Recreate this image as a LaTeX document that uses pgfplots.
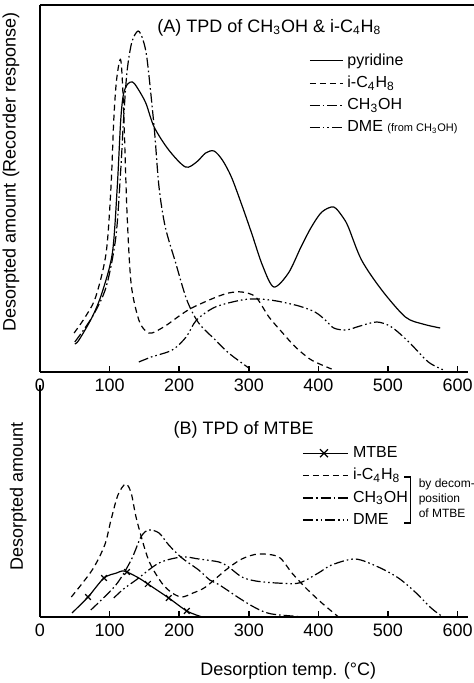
\documentclass[border=0pt]{standalone}
\usepackage{pgfplots}
\pgfplotsset{compat=1.18}
\usepackage{fontspec}
\setmainfont{Liberation Sans}
\newcommand{\sub}[1]{\textsubscript{#1}}
\begin{document}
\begin{tikzpicture}
% 1 px of the reference = 0.5pt; origin at the lower axis corner
\useasboundingbox (-20pt,-33pt) rectangle (217pt,308.5pt);
\pgfplotsset{
  tpd/.style={
    scale only axis, width=214pt,
    xmin=0, xmax=615, ymin=0,
    axis x line*=bottom, axis y line*=left,
    axis line style={line width=1pt},
    xtick={0,100,...,600}, ytick=\empty,
    tick align=inside, major tick length=3pt,
    tick style={line width=0.8pt, black},
    ticklabel style={font=\small},
    /pgf/number format/assume math mode=true,
    legend style={draw=none, fill=none, font=\footnotesize, cells={anchor=west},
      inner sep=0pt, row sep=0pt},
    clip=false,
  },
  pyr/.style={line width=0.6pt, smooth, tension=0.5},
  ib/.style={line width=0.6pt, smooth, tension=0.5, dash pattern=on 3pt off 2pt},
  meoh/.style={line width=0.6pt, smooth, tension=0.5, dash pattern=on 5pt off 1.5pt on 0.8pt off 1.5pt},
  dme/.style={line width=0.6pt, smooth, tension=0.5, dash pattern=on 5pt off 1.5pt on 0.8pt off 1.5pt on 0.8pt off 1.5pt},
}
% (A) TPD of CH3OH and i-C4H8
\begin{axis}[tpd, at={(0,122.5pt)}, height=183.5pt, ymax=367,
  ylabel={Desorpted amount (Recorder response)},
  ylabel style={at={(axis description cs:-0.068,0.545)}, anchor=center, font=\small},
  legend style={at={(axis description cs:0.628,0.88)}, anchor=north west},
  legend image code/.code={\draw[#1] (0cm,0cm) -- (0.58cm,0cm);},
]
\addplot[pyr] coordinates {(50,28)(56,32)(75,55)(89,79)(104,119)(111,185)(116,252)(120,278)(126,288)(133,290)(140,284)(152,269)(164,245)(185,222)(209,205)(225,210)(238,219)(250,221)(262,212)(275,195)(290,167)(304,139)(320,106)(336,85)(357,99)(375,125)(390,145)(405,160)(422,165)(435,155)(443,145)(462,112)(491,82)(525,55)(550,48)(575,44)};
\addlegendentry{pyridine}
\addplot[ib] coordinates {(49,39)(65,55)(80,75)(95,119)(102,185)(106,252)(110,292)(116,312)(120,265)(125,160)(131,88)(142,52)(152,41)(161,39)(180,46)(200,56)(218,64)(250,74)(271,79)(290,80)(310,75)(329,55)(350,38)(367,25)(390,12)(419,3)};
\addlegendentry{i-C\sub{4}H\sub{8}}
\addplot[meoh] coordinates {(50,30)(75,55)(95,85)(109,135)(116,202)(120,252)(125,300)(132,330)(141,341)(148,332)(154,312)(164,245)(171,185)(180,145)(195,109)(211,72)(228,49)(252,32)(271,19)(300,4)};
\addlegendentry{CH\sub{3}OH}
\addplot[dme] coordinates {(142,10)(160,15)(190,22)(210,35)(225,52)(252,65)(290,72)(314,73)(340,71)(372,66)(395,60)(410,52)(422,44)(440,42)(460,46)(484,50)(505,45)(530,30)(558,10)(580,2)};
\addlegendentry{DME {\fontsize{5.5}{6}\selectfont(from CH\sub{3}OH)}}
\draw[line width=1pt] (axis description cs:0,1) -- (axis description cs:1.02,1);
\node[font=\small] at (axis description cs:0.536,0.937) {(A) TPD of CH\sub{3}OH \& i-C\sub{4}H\sub{8}};
\end{axis}
% (B) TPD of MTBE
\begin{axis}[tpd, at={(0,0)}, height=116pt, ymax=232,
  ylabel={Desorpted amount},
  ylabel style={at={(axis description cs:-0.051,0.52)}, anchor=center, font=\small},
  xlabel={Desorption temp. (°C)},
  xlabel style={at={(axis description cs:0.58,-0.23)}, anchor=center, font=\small},
  legend style={at={(axis description cs:0.612,0.755)}, anchor=north west},
  legend image code/.code={\draw[#1] (0cm,0cm) -- (0.8cm,0cm);},
]
\addplot[line width=0.6pt, smooth, tension=0.5, mark=x, mark size=2pt, mark indices={2,3,6,8,9,10},
  legend image code/.code={\draw[line width=0.6pt] (0cm,0cm) -- (0.8cm,0cm);
    \draw[line width=0.6pt] (0.3cm,-2pt) -- (0.44cm,2pt) (0.3cm,2pt) -- (0.44cm,-2pt);}]
  coordinates {(46,4)(69,20)(92,39)(110,44)(118,46)(125,45)(142,39)(155,33)(185,19)(211,6)(233,0)};
\addlegendentry{MTBE}
\addplot[ib] coordinates {(45,20)(75,47)(93,72)(102,97)(112,122)(123,133)(131,124)(139,97)(156,57)(175,34)(190,24)(204,20)(220,24)(238,30)(267,47)(290,58)(314,63)(343,60)(362,44)(382,29)(405,14)(429,0)};
\addlegendentry{i-C\sub{4}H\sub{8}}
\addplot[meoh] coordinates {(73,7)(109,32)(131,57)(145,80)(156,87)(171,84)(185,72)(204,59)(228,47)(244,37)(258,32)(286,19)(310,9)(333,3)(382,0)};
\addlegendentry{CH\sub{3}OH}
\addplot[dme] coordinates {(106,19)(120,28)(138,37)(171,54)(204,60)(228,58)(257,55)(271,50)(290,40)(310,36)(340,34)(372,34)(400,44)(419,52)(453,58)(486,50)(515,39)(539,25)(562,9)(577,1)};
\addlegendentry{DME}
\draw[line width=0.6pt] (axis description cs:0.851,0.603) -- (axis description cs:0.865,0.603) -- (axis description cs:0.865,0.405) -- (axis description cs:0.851,0.405);
\node[anchor=west, align=left, inner sep=0pt, font=\fontsize{6}{7.5}\selectfont] at (axis description cs:0.884,0.51) {by decom-\\position\\of MTBE};
\node[font=\small] at (axis description cs:0.476,0.806) {(B) TPD of MTBE};
\end{axis}
\end{tikzpicture}
\end{document}
